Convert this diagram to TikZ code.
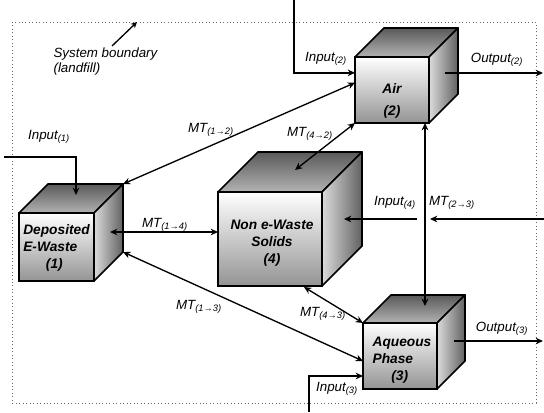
\documentclass[tikz,border=0pt]{standalone}
\usepackage{fontspec}
\setmainfont{Liberation Sans}
\usetikzlibrary{arrows.meta,calc}

\tikzset{
  frontface/.style={draw, line width=1.3pt, outer sep=0pt, inner sep=0pt,
    top color=white, middle color=black!5, bottom color=black!42},
  topface/.style={draw, line width=1.3pt, line join=round,
    top color=black!65, bottom color=black!30},
  sideface/.style={draw, line width=1.3pt, line join=round,
    left color=black!14, right color=black!62},
  cubetext/.style={font=\fontsize{10.3}{12.8}\selectfont\bfseries\itshape, inner sep=0pt},
  lab/.style={font=\fontsize{10}{11.5}\selectfont\itshape, inner sep=1pt},
  arr/.style={line width=1pt, -{Stealth[length=5.5pt,width=5pt]}},
  darr/.style={line width=1pt, {Stealth[length=5.5pt,width=5pt]}-{Stealth[length=5.5pt,width=5pt]}},
  boundary/.style={draw=black!60, line width=0.6pt, dotted}
}

% #1 name, (#2,#3) front top-left corner, #4 width, #5 height, #6 depth
\newcommand\shadedcube[6]{%
  \node[frontface, minimum width=#4*0.75pt, minimum height=#5*0.75pt,
        anchor=north west] (#1) at (#2,#3) {};
  \coordinate (#1-btl) at ($(#1.north west)+(#6,-#6)$);
  \coordinate (#1-btr) at ($(#1.north east)+(#6,-#6)$);
  \coordinate (#1-bbr) at ($(#1.south east)+(#6,-#6)$);
  \path[topface] (#1.north west) -- (#1-btl) -- (#1-btr) -- (#1.north east) -- cycle;
  \path[sideface] (#1.north east) -- (#1-btr) -- (#1-bbr) -- (#1.south east) -- cycle;
}

\begin{document}
\begin{tikzpicture}[x=0.75pt, y=-0.75pt]
\useasboundingbox (0,0) rectangle (544,412);

% landfill system boundary
\draw[boundary] (12,22) rectangle (536,403);
\coordinate (bpt) at (137,22);
\node[lab, anchor=north west, align=left] (sb) at (52,46) {System boundary\\(landfill)};
\draw[line width=1pt, -{Stealth[length=4.5pt,width=4.5pt]}] ($(sb.north west)+(60,0)$) -- (bpt);

% compartments
\shadedcube{c1}{19}{213}{75}{68}{29}
\shadedcube{c2}{355}{57}{74}{66}{29}
\shadedcube{c4}{218}{192}{104}{94}{40}
\shadedcube{c3}{363}{323}{74}{66}{28}

\node[cubetext, align=left] (t1) at ($(c1.center)+(0,1)$) {Deposited\\E-Waste\\\hspace*{17pt}(1)};
\node[cubetext, align=center] (t2) at ($(c2.center)+(0,11)$) {Air\\[4pt](2)};
\node[cubetext, align=center] (t4) at ($(c4.center)+(2,4)$) {Non e-Waste\\Solids\\(4)};
\node[cubetext, align=left] (t3) at ($(c3.center)+(2,4)$) {Aqueous\\Phase\\\hspace*{14pt}(3)};

% external inputs and outputs
\coordinate (in1s) at (4,157);
\draw[arr] (in1s) -| ($(c1.north west)+(57,-18)$);
\coordinate (in2s) at (294,0);
\draw[arr] (in2s) |- ($(c2.north west)!0.24!(c2.south west)$);
\coordinate (out2e) at (543,73);
\draw[arr] ($(c2.north east)+(16,16)$) -- (out2e);
\coordinate (in4s) at (544,219);
\coordinate (gapR) at (430,219);
\coordinate (gapL) at (417,219);
\draw[arr] (in4s) -- (gapR);
\draw[arr] (gapL) -- ($(c4.north east)+(22,27)$);
\coordinate (out3e) at (543,341);
\draw[arr] ($(c3.north east)+(17,18)$) -- (out3e);
\coordinate (in3s) at (309,412);
\draw[arr] (in3s) |- ($(c3.north west)+(0,53)$);

% mass transfer between compartments
\draw[darr] (c1-btr) -- ($(c2.north west)!0.39!(c2.south west)$);
\draw[darr] (c2.south west) -- ($(c4.north west)+(77,-22)$);
\draw[darr] ($(c2.south west)+(70,0)$) -- ($(c3.north west)+(62,-17)$);
\draw[darr] ($(c1.north east)+(16,19)$) -- ($(c4.north west)+(0,40)$);
\draw[darr] (c1-bbr) -- ($(c3.north west)+(0,38)$);
\draw[darr] ($(c4.south west)+(86,1)$) -- (c3.north west);

% flow labels
\node[lab] (l-in1) at (49,137) {Input\textsubscript{(1)}};
\node[lab] (l-mt12) at (211,130) {MT\textsubscript{(1→2)}};
\node[lab] (l-in2) at (326,59) {Input\textsubscript{(2)}};
\node[lab] (l-out2) at (497,60) {Output\textsubscript{(2)}};
\node[lab] (l-mt42) at (310,134) {MT\textsubscript{(4→2)}};
\node[lab] (l-in4) at (395,203) {Input\textsubscript{(4)}};
\node[lab] (l-mt23) at (452,203) {MT\textsubscript{(2→3)}};
\node[lab] (l-mt14) at (165,225) {MT\textsubscript{(1→4)}};
\node[lab] (l-mt13) at (199,307) {MT\textsubscript{(1→3)}};
\node[lab] (l-mt43) at (323,314) {MT\textsubscript{(4→3)}};
\node[lab] (l-out3) at (502,329) {Output\textsubscript{(3)}};
\node[lab] (l-in3) at (337,389) {Input\textsubscript{(3)}};
\end{tikzpicture}
\end{document}
